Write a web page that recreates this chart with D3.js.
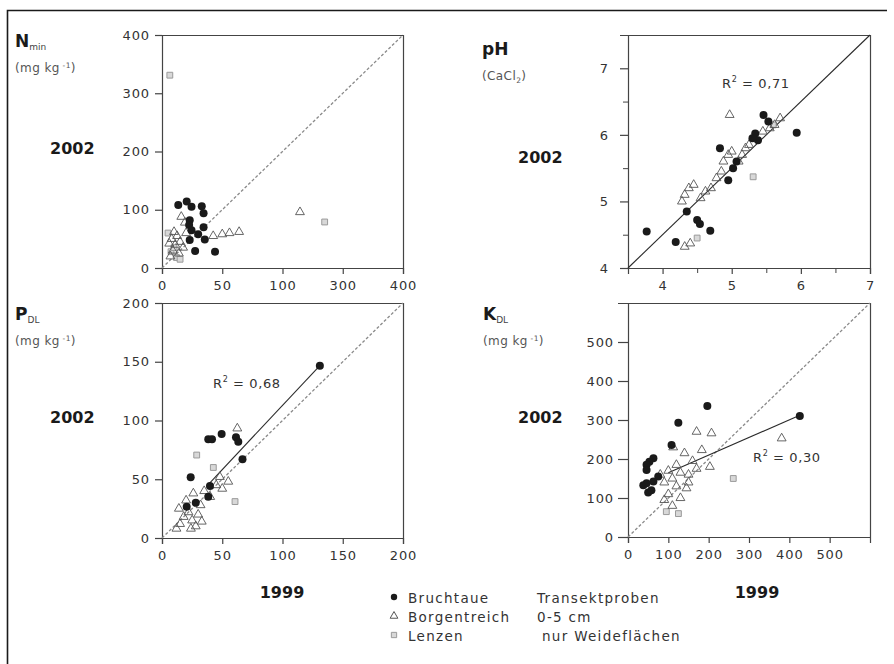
<!DOCTYPE html>
<html><head><meta charset="utf-8">
<script src="https://cdn.jsdelivr.net/npm/d3@7"></script>
<style>
  body { margin: 0; background: #fff; }
  svg { display: block; font-family: "DejaVu Sans", "Open Sans", sans-serif; }
</style></head>
<body>
<svg id="chart" width="894" height="664"></svg>
<script>
// Each pair is [1999 value, 2002 value] for one sampling point.

// N min (mg kg-1)
const nminBruchtaue = [[41,114],[49,105],[66,106],[69,94],[27,108],[46,82],[45,74],[49,65],[69,70],[46,48],[71,49],[55,29],[88,28],[60,58]];
const nminBorgentreich = [[14,20],[18,30],[22,40],[16,50],[25,55],[20,62],[30,45],[35,35],[28,25],[12,42],[40,60],[38,78],[32,88],[85,55],[100,58],[112,60],[128,62],[229,96]];
const nminLenzen = [[13,331],[270,79],[15,28],[24,18],[20,35],[30,15],[10,60]];

// pH (CaCl2)
const phBruchtaue = [[3.77,4.55],[4.19,4.39],[4.35,4.85],[4.50,4.72],[4.54,4.66],[4.69,4.56],[4.83,5.80],[4.95,5.32],[5.02,5.50],[5.07,5.60],[5.34,6.02],[5.38,5.92],[5.46,6.30],[5.53,6.20],[5.94,6.03],[5.30,5.95]];
const phBorgentreich = [[4.28,5.0],[4.32,5.1],[4.38,5.2],[4.45,5.25],[4.55,5.05],[4.62,5.15],[4.70,5.2],[4.78,5.35],[4.85,5.45],[4.88,5.6],[4.95,5.7],[5.0,5.75],[5.1,5.6],[5.15,5.7],[5.2,5.8],[5.25,5.85],[5.45,6.05],[5.55,6.1],[5.62,6.15],[5.7,6.25],[4.97,6.30],[4.40,4.37],[4.32,4.32]];
const phLenzen = [[5.31,5.37],[4.5,4.45],[5.6,6.15]];

// P DL (mg kg-1)
const pBruchtaue = [[38.4,84],[41.5,84],[49.5,88.5],[61.4,85.7],[63.3,82],[66.8,67],[23.8,51.7],[39.8,44.3],[38.4,35.2],[131,146.7],[20.5,26.7],[28,30]];
const pBorgentreich = [[62.5,93.3],[15,12],[18,18],[22,22],[14,25],[25,15],[28,10],[30,20],[20,32],[26,38],[32,28],[35,40],[40,35],[45,45],[50,42],[48,52],[55,48],[12,8],[24,8],[33,14]];
const pLenzen = [[28.8,70.6],[60.6,31],[42.6,60]];

// K DL (mg kg-1)
const kBruchtaue = [[196.7,336],[124.8,293],[426,310],[108,236],[63,202],[53,193],[46,185],[46,172],[75,155],[63,142],[38,133],[46,138],[50,114],[58,120]];
const kBorgentreich = [[170,270],[207,266],[183,223],[203,180],[381,253],[112,230],[140,215],[160,195],[120,185],[100,170],[130,165],[150,160],[110,150],[90,140],[120,130],[145,125],[100,110],[130,100],[90,95],[110,80],[150,140],[170,175],[80,160]];
const kLenzen = [[261,150],[95,65],[125,60]];

// Axis ticks and labels
const nminTicksX = [0, 100, 200, 300, 400];
const nminLabelsX = ["0", "50", "100", "300", "400"];
const nminTicksY = [0, 100, 200, 300, 400];
const phTicksX = [4, 5, 6, 7];
const phTicksY = [4, 5, 6, 7];
const phMinorTicks = [4.5, 5.5, 6.5];
const pTicksX = [0, 50, 100, 150, 200];
const pTicksY = [0, 50, 100, 150, 200];
const kTicksX = [0, 100, 200, 300, 400, 500];
const kTicksY = [0, 100, 200, 300, 400, 500];

// Fitted lines and their R² values
const phFit = [[3.5, 4.0], [7.0, 7.5]];
const phR2 = "0,71";
const pFit = [[37, 44], [131, 146.7]];
const pR2 = "0,68";
const kFit = [[100, 165], [426, 312]];
const kR2 = "0,30";

// Legend entries
const legendSites = ["Bruchtaue", "Borgentreich", "Lenzen"];
const legendNotes = ["Transektproben", "0-5 cm", "nur Weideflächen"];

const svg = d3.select("#chart");
const INK = "#1a1a1a";

// outer frame (left and top edges)
svg.append("path").attr("d", "M7.5,664 V10.5 H887")
  .attr("fill", "none").attr("stroke", INK).attr("stroke-width", 1.6);

const panels = [
  { name: "N", sub: "min", unit: true, x0: 162, x1: 403, y0: 35, y1: 268,
    xDom: [0, 400], yDom: [0, 400], xTicks: nminTicksX, xLabels: nminLabelsX, yTicks: nminTicksY,
    yTick: 7, yPad: 5,
    data: [nminLenzen, nminBorgentreich, nminBruchtaue], diag: [[0,0],[400,400]],
    titleX: 15, titleY: 47, yearY: 154, yearX: 50, showX: false },
  { name: "pH", sub: "", unit: false, x0: 628, x1: 870, y0: 35, y1: 268,
    xDom: [3.5, 7], yDom: [4, 7.5], xTicks: phTicksX, yTicks: phTicksY, minor: phMinorTicks,
    yTick: 8, yPad: 11,
    data: [phLenzen, phBorgentreich, phBruchtaue], fit: phFit, r2: phR2, r2X: 722, r2Y: 88,
    titleX: 482, titleY: 55, yearY: 163, yearX: 518, showX: false },
  { name: "P", sub: "DL", unit: true, x0: 162, x1: 403, y0: 303, y1: 538,
    xDom: [0, 200], yDom: [0, 200], xTicks: pTicksX, yTicks: pTicksY,
    yTick: 7, yPad: 5,
    data: [pLenzen, pBorgentreich, pBruchtaue], diag: [[0,0],[200,200]], fit: pFit, r2: pR2, r2X: 213, r2Y: 388,
    titleX: 15, titleY: 320, yearY: 423, yearX: 50, showX: true, x1999: 282 },
  { name: "K", sub: "DL", unit: true, x0: 628, x1: 870, y0: 303, y1: 537,
    xDom: [0, 600], yDom: [0, 600], xTicks: kTicksX, yTicks: kTicksY,
    yTick: 10, yPad: 4,
    data: [kLenzen, kBorgentreich, kBruchtaue], diag: [[0,0],[600,600]], fit: kFit, r2: kR2, r2X: 753, r2Y: 462,
    titleX: 483, titleY: 320, yearY: 423, yearX: 518, showX: true, x1999: 757 }
];

const triangle = d3.symbol().type(d3.symbolTriangle).size(34);
const square = d3.symbol().type(d3.symbolSquare).size(34);

function drawPanel(p) {
  const g = svg.append("g");
  const x = d3.scaleLinear().domain(p.xDom).range([p.x0, p.x1]);
  const y = d3.scaleLinear().domain(p.yDom).range([p.y1, p.y0]);

  // box top and right edges
  g.append("path").attr("d", `M${p.x0},${p.y0 + 0.5} H${p.x1 + 0.5} V${p.y1}`)
    .attr("fill", "none").attr("stroke", "#444").attr("stroke-width", 1.2);

  const xFormat = p.xLabels ? d => p.xLabels[p.xTicks.indexOf(d)] : d3.format("d");
  const xAxis = d3.axisBottom(x).tickValues(p.xTicks).tickSizeOuter(0).tickSize(6).tickPadding(7)
    .tickFormat(xFormat);
  const yAxis = d3.axisLeft(y).tickValues(p.yTicks).tickSizeOuter(0)
    .tickSize(p.yTick).tickPadding(p.yPad).tickFormat(d3.format("d"));

  const gx = g.append("g").attr("transform", `translate(0,${p.y1})`).call(xAxis);
  const gy = g.append("g").attr("transform", `translate(${p.x0},0)`).call(yAxis);
  [gx, gy].forEach(a => {
    a.selectAll("path,line").attr("stroke", "#444").attr("stroke-width", 1.2);
    a.selectAll("text").attr("font-size", 13).attr("fill", "#333")
      .attr("font-family", "'DejaVu Sans', sans-serif").style("letter-spacing", "0.9px");
  });

  if (p.minor) {
    g.append("g").attr("transform", `translate(0,${p.y1})`)
      .call(d3.axisBottom(x).tickValues(p.minor).tickSize(5).tickFormat(""))
      .call(a => a.select(".domain").remove())
      .selectAll("line").attr("stroke", "#444");
    g.append("g").attr("transform", `translate(${p.x0},0)`)
      .call(d3.axisLeft(y).tickValues(p.minor).tickSize(5).tickFormat(""))
      .call(a => a.select(".domain").remove())
      .selectAll("line").attr("stroke", "#444");
  }

  const line = d3.line().x(d => x(d[0])).y(d => y(d[1]));
  if (p.diag) {
    g.append("path").attr("d", line(p.diag)).attr("fill", "none")
      .attr("stroke", "#8a8a8a").attr("stroke-width", 1.3).attr("stroke-dasharray", "3,2");
  }
  if (p.fit) {
    g.append("path").attr("d", line(p.fit)).attr("fill", "none")
      .attr("stroke", "#2a2a2a").attr("stroke-width", 1.1);
  }

  const [lenzen, borgentreich, bruchtaue] = p.data;
  g.selectAll(null).data(lenzen).join("path")
    .attr("d", square).attr("transform", d => `translate(${x(d[0])},${y(d[1])})`)
    .attr("fill", "#d8d8d8").attr("stroke", "#9a9a9a").attr("stroke-width", 1);
  g.selectAll(null).data(borgentreich).join("path")
    .attr("d", triangle).attr("transform", d => `translate(${x(d[0])},${y(d[1])})`)
    .attr("fill", "none").attr("stroke", "#555").attr("stroke-width", 0.9);
  g.selectAll(null).data(bruchtaue).join("circle")
    .attr("cx", d => x(d[0])).attr("cy", d => y(d[1])).attr("r", 4).attr("fill", INK);

  if (p.r2) {
    const t = g.append("text").attr("x", p.r2X).attr("y", p.r2Y)
      .attr("font-size", 13).attr("fill", "#333").style("letter-spacing", "0.6px");
    t.append("tspan").text("R");
    t.append("tspan").attr("font-size", 8).attr("dy", -6).text("2");
    t.append("tspan").attr("dy", 6).text(" = " + p.r2);
  }

  // variable title
  const title = svg.append("text").attr("x", p.titleX).attr("y", p.titleY).attr("fill", INK);
  title.append("tspan").attr("font-size", 17).attr("font-weight", 700).text(p.name);
  if (p.sub) title.append("tspan").attr("font-size", 9).attr("dy", 3).attr("fill", "#444").text(p.sub);

  const unit = svg.append("text").attr("x", p.titleX).attr("y", p.titleY + 25)
    .attr("font-size", 12).attr("fill", "#555").style("letter-spacing", "0.4px");
  if (p.unit) {
    unit.append("tspan").text("(mg kg");
    unit.append("tspan").attr("font-size", 7.5).attr("dy", -4).text(" -1");
    unit.append("tspan").attr("dy", 4).text(")");
  } else {
    unit.append("tspan").text("(CaCl");
    unit.append("tspan").attr("font-size", 7.5).attr("dy", 3).text("2");
    unit.append("tspan").attr("dy", -3).text(")");
  }

  svg.append("text").attr("x", p.yearX).attr("y", p.yearY)
    .attr("font-size", 16).attr("font-weight", 700).attr("fill", INK).text("2002");
  if (p.showX) {
    svg.append("text").attr("x", p.x1999).attr("y", 598).attr("text-anchor", "middle")
      .attr("font-size", 16).attr("font-weight", 700).attr("fill", INK).text("1999");
  }
}

panels.forEach(drawPanel);

// legend
const lg = svg.append("g").attr("font-size", 13.5).attr("fill", "#333").style("letter-spacing", "1.3px");
const rowY = [598, 617, 636];
lg.append("circle").attr("cx", 394).attr("cy", rowY[0] - 1).attr("r", 3.2).attr("fill", INK);
lg.append("path").attr("d", d3.symbol().type(d3.symbolTriangle).size(26)())
  .attr("transform", `translate(394,${rowY[1] - 1})`).attr("fill", "none").attr("stroke", "#555");
lg.append("path").attr("d", d3.symbol().type(d3.symbolSquare).size(28)())
  .attr("transform", `translate(394,${rowY[2] - 1})`).attr("fill", "#d8d8d8").attr("stroke", "#9a9a9a");
legendSites.forEach((s, i) => {
  lg.append("text").attr("x", 408).attr("y", rowY[i] + 5).text(s);
});
const noteX = [537, 537, 542];
legendNotes.forEach((s, i) => {
  lg.append("text").attr("x", noteX[i]).attr("y", rowY[i] + 5).text(s);
});
</script>
</body></html>
